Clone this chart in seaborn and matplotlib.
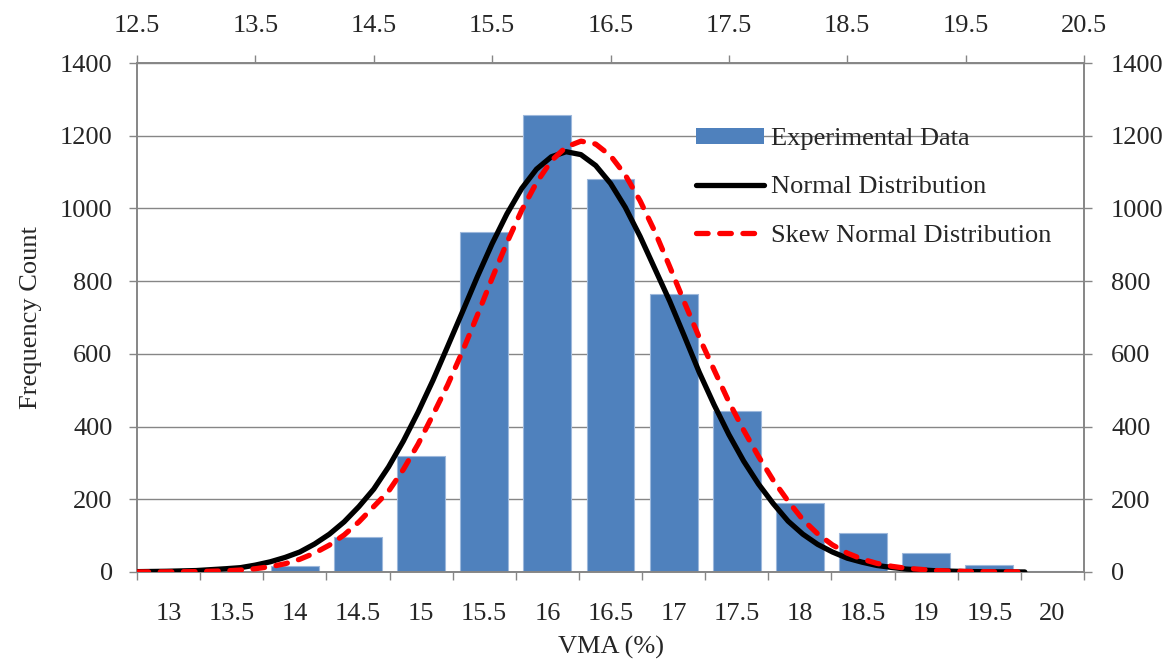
import matplotlib
matplotlib.use("Agg")
import matplotlib.pyplot as plt
import seaborn as sns
import pandas as pd
import numpy as np
from matplotlib.patches import Patch
from matplotlib.lines import Line2D

# ---- data -------------------------------------------------------------
categories = ["13", "13.5", "14", "14.5", "15", "15.5", "16", "16.5",
              "17", "17.5", "18", "18.5", "19", "19.5", "20"]
counts = [0, 2, 17, 95, 318, 936, 1256, 1082, 766, 442, 191, 107, 51, 18, 4]

curve_x = [12.5, 12.75, 13.0, 13.25, 13.375, 13.5, 13.625, 13.75, 13.875,
           14.0, 14.125, 14.25, 14.375, 14.5,
           14.625, 14.75, 14.875, 15.0, 15.125, 15.25, 15.375, 15.5,
           15.625, 15.75, 15.875, 16.0, 16.125, 16.25, 16.375, 16.5,
           16.625, 16.75, 16.875, 17.0, 17.125, 17.25, 17.375, 17.5,
           17.625, 17.75, 17.875, 18.0, 18.125, 18.25, 18.375, 18.5,
           18.625, 18.75, 18.875, 19.0, 19.25, 19.5, 19.75, 20.0]
normal_y = [1, 2, 4, 9, 12, 19, 28, 40, 55,
            77, 104, 138, 180, 228,
            289, 360, 440, 527, 621, 716, 812, 903,
            985, 1055, 1108, 1142, 1156, 1148, 1118, 1069,
            1003, 923, 834, 745, 648, 549, 460, 378,
            305, 242, 188, 140, 104, 76, 55, 38,
            27, 18, 12.5, 8, 3.4, 1.3, 0.4, 0.1]
skew_y = [0.1, 0.3, 1.0, 3.1, 5.4, 9, 14.6, 22.6, 35,
          52, 74, 102, 138, 180,
          222, 282, 352, 432, 515, 607, 706, 808,
          906, 995, 1071, 1131, 1169, 1185, 1177, 1145,
          1092, 1021, 936, 840, 741, 645, 556, 468,
          390, 318, 252, 195, 144, 105, 74.5, 52,
          35.5, 23.8, 15.7, 10.2, 4.0, 1.5, 0.5, 0.2]

top_ticks = [12.5, 13.5, 14.5, 15.5, 16.5, 17.5, 18.5, 19.5, 20.5]
y_ticks = [0, 200, 400, 600, 800, 1000, 1200, 1400]

# ---- style ------------------------------------------------------------
sns.set_theme(style="white")
plt.rcParams["font.family"] = ["Liberation Serif", "DejaVu Serif"]
FS = 19
GREY = "#868686"
BLUE = "#4F81BD"
LW = 3.8

fig = plt.figure(figsize=(11.65, 6.59), dpi=100)
pos = [137 / 1165, 1 - 572 / 659, (1084 - 137) / 1165, (572 - 63) / 659]
ax = fig.add_axes(pos)

bars_df = pd.DataFrame({"cat": categories, "count": counts})
sns.barplot(data=bars_df, x="cat", y="count", ax=ax, color=BLUE,
            saturation=1, width=0.76, edgecolor="#9DB8DC", linewidth=0.8,
            zorder=2)
ax.set_xlim(-0.5, len(categories) - 0.5)
ax.set_ylim(0, 1400)
ax.set_yticks(y_ticks)
ax.yaxis.grid(True, color=GREY, linewidth=1.0)
ax.set_axisbelow(True)

# category ticks at boundaries, labels at centres
ax.set_xticks(np.arange(-0.5, len(categories), 1.0))
ax.set_xticklabels([])
ax.set_xticks(np.arange(len(categories)), minor=True)
ax.set_xticklabels(categories, minor=True)
ax.tick_params(axis="x", which="major", direction="out", length=6,
               width=1.0, color=GREY, bottom=True)
ax.tick_params(axis="x", which="minor", length=0, pad=22, labelsize=FS)
ax.tick_params(axis="y", direction="out", length=6, width=1.0, color=GREY,
               left=True, pad=11.5, labelsize=FS)
for s in ax.spines.values():
    s.set_color(GREY)
    s.set_linewidth(1.2)
ax.set_xlabel("VMA (%)", fontsize=FS, labelpad=8)
ax.set_ylabel("Frequency Count", fontsize=FS, labelpad=13)

# secondary axes (top x, right y) for the fitted curves
ax2 = fig.add_axes(pos, facecolor="none")
ax2.set_xlim(12.5, 20.5)
ax2.set_ylim(0, 1400)
curve_df = pd.DataFrame({"x": curve_x, "normal": normal_y, "skew": skew_y})
sns.lineplot(data=curve_df, x="x", y="normal", ax=ax2, color="black",
             linewidth=LW, zorder=3)
sns.lineplot(data=curve_df, x="x", y="skew", ax=ax2, color="#FF0000",
             linewidth=LW, zorder=4)
ax2.lines[0].set_solid_capstyle("round")
ax2.lines[0].set_solid_joinstyle("round")
ax2.lines[1].set_dashes([2.2, 2.2])
ax2.lines[1].set_dash_capstyle("round")
ax2.xaxis.tick_top()
ax2.yaxis.tick_right()
ax2.set_xticks(top_ticks)
ax2.set_xticklabels([f"{t:g}" for t in top_ticks])
ax2.set_yticks(y_ticks)
ax2.tick_params(axis="x", direction="out", length=6, width=1.0, color=GREY,
                top=True, bottom=False, pad=12.5, labelsize=FS)
ax2.tick_params(axis="y", direction="out", length=6, width=1.0, color=GREY,
                right=True, left=False, pad=13.5, labelsize=FS)
ax2.set_xlabel("")
ax2.set_ylabel("")
for s in ax2.spines.values():
    s.set_color(GREY)
    s.set_linewidth(1.2)

handles = [Patch(facecolor=BLUE, edgecolor="none"),
           Line2D([0], [0], color="black", linewidth=LW,
                  solid_capstyle="round"),
           Line2D([0], [0], color="#FF0000", linewidth=LW,
                  dashes=[2.2, 2.2], dash_capstyle="round")]
labels = ["Experimental Data", "Normal Distribution",
          "Skew Normal Distribution"]
leg = ax2.legend(handles, labels, loc="upper left",
                 bbox_to_anchor=(696 / 1165, 1 - 128 / 659),
                 bbox_transform=fig.transFigure, frameon=False,
                 fontsize=FS, handlelength=2.58, handleheight=0.55,
                 handletextpad=0.27, labelspacing=0.98, borderpad=0,
                 borderaxespad=0)

fig.savefig("out.png", dpi=100)
